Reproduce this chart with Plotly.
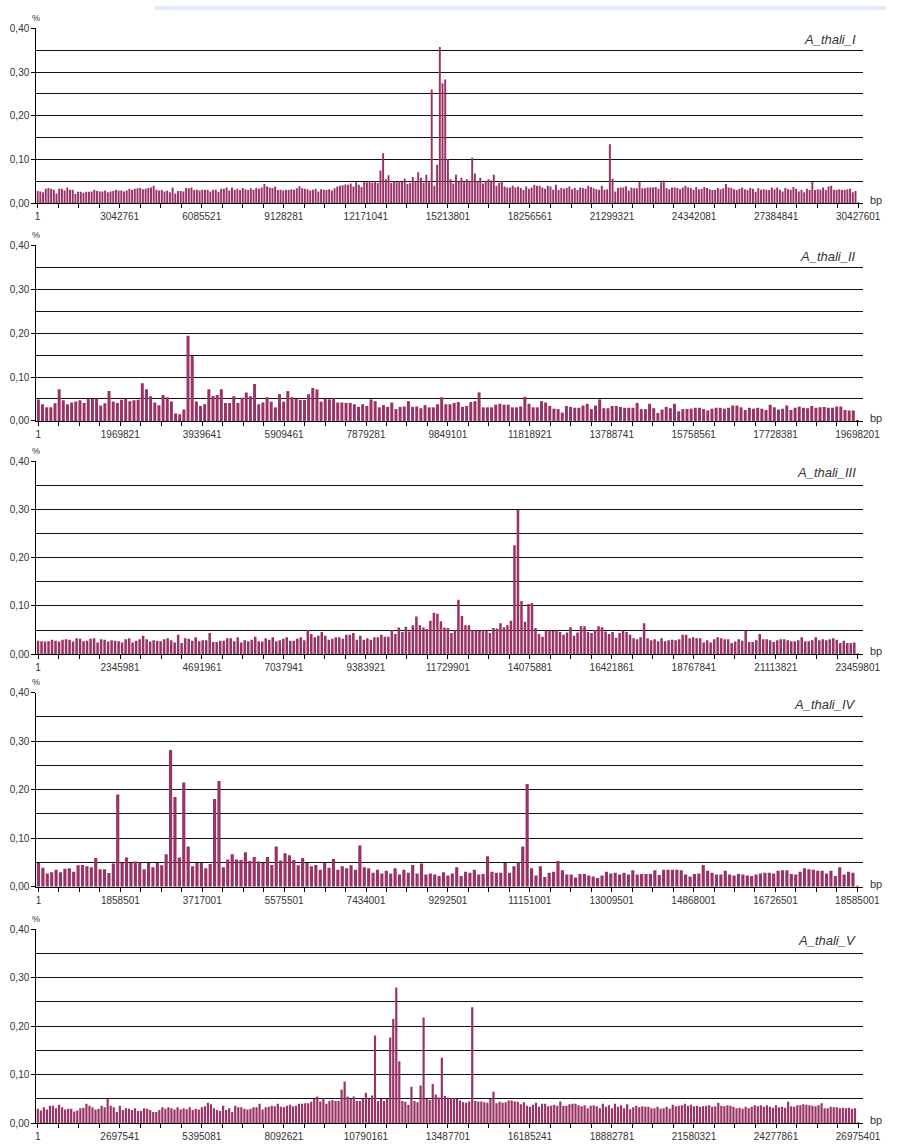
import plotly.graph_objects as go

W, H = 903, 1148

names = ["A_thali_I", "A_thali_II", "A_thali_III", "A_thali_IV", "A_thali_V"]

xlabels_I = ["1", "3042761", "6085521", "9128281", "12171041", "15213801",
             "18256561", "21299321", "24342081", "27384841", "30427601"]
xlabels_II = ["1", "1969821", "3939641", "5909461", "7879281", "9849101",
              "11818921", "13788741", "15758561", "17728381", "19698201"]
xlabels_III = ["1", "2345981", "4691961", "7037941", "9383921", "11729901",
               "14075881", "16421861", "18767841", "21113821", "23459801"]
xlabels_IV = ["1", "1858501", "3717001", "5575501", "7434001", "9292501",
              "11151001", "13009501", "14868001", "16726501", "18585001"]
xlabels_V = ["1", "2697541", "5395081", "8092621", "10790161", "13487701",
             "16185241", "18882781", "21580321", "24277861", "26975401"]

vals_I = [
    0.028, 0.027, 0.025, 0.033, 0.035, 0.033, 0.031, 0.022, 0.033, 0.033,
    0.029, 0.036, 0.031, 0.031, 0.021, 0.026, 0.026, 0.024, 0.026, 0.026,
    0.027, 0.031, 0.028, 0.027, 0.027, 0.029, 0.025, 0.027, 0.028, 0.031,
    0.029, 0.029, 0.027, 0.029, 0.033, 0.031, 0.033, 0.034, 0.035, 0.032,
    0.033, 0.035, 0.036, 0.040, 0.031, 0.029, 0.030, 0.027, 0.029, 0.025,
    0.036, 0.022, 0.028, 0.028, 0.027, 0.035, 0.034, 0.036, 0.030, 0.031,
    0.029, 0.031, 0.030, 0.031, 0.027, 0.031, 0.031, 0.026, 0.033, 0.033,
    0.036, 0.029, 0.036, 0.031, 0.033, 0.030, 0.035, 0.032, 0.030, 0.034,
    0.031, 0.035, 0.033, 0.036, 0.044, 0.038, 0.036, 0.035, 0.038, 0.030,
    0.031, 0.029, 0.031, 0.030, 0.032, 0.031, 0.034, 0.039, 0.034, 0.033,
    0.032, 0.029, 0.031, 0.033, 0.027, 0.032, 0.031, 0.030, 0.032, 0.029,
    0.034, 0.038, 0.040, 0.041, 0.043, 0.042, 0.045, 0.038, 0.048, 0.042,
    0.037, 0.049, 0.048, 0.050, 0.047, 0.050, 0.046, 0.075, 0.114, 0.055,
    0.064, 0.046, 0.050, 0.048, 0.050, 0.049, 0.056, 0.044, 0.046, 0.060,
    0.050, 0.071, 0.058, 0.047, 0.065, 0.048, 0.260, 0.040, 0.088, 0.357,
    0.274, 0.283, 0.101, 0.055, 0.045, 0.065, 0.050, 0.058, 0.048, 0.055,
    0.050, 0.104, 0.068, 0.050, 0.058, 0.045, 0.050, 0.055, 0.052, 0.065,
    0.040, 0.047, 0.050, 0.038, 0.036, 0.036, 0.040, 0.036, 0.038, 0.035,
    0.030, 0.038, 0.033, 0.036, 0.042, 0.040, 0.040, 0.036, 0.033, 0.040,
    0.038, 0.031, 0.042, 0.030, 0.035, 0.033, 0.035, 0.038, 0.032, 0.035,
    0.030, 0.036, 0.035, 0.033, 0.040, 0.037, 0.034, 0.032, 0.031, 0.040,
    0.031, 0.032, 0.135, 0.056, 0.027, 0.035, 0.036, 0.036, 0.039, 0.029,
    0.036, 0.034, 0.034, 0.049, 0.034, 0.034, 0.036, 0.036, 0.036, 0.037,
    0.033, 0.048, 0.052, 0.035, 0.032, 0.036, 0.036, 0.035, 0.032, 0.036,
    0.040, 0.036, 0.035, 0.030, 0.037, 0.032, 0.033, 0.037, 0.035, 0.032,
    0.030, 0.031, 0.035, 0.032, 0.034, 0.044, 0.036, 0.035, 0.032, 0.030,
    0.033, 0.036, 0.032, 0.030, 0.035, 0.033, 0.026, 0.034, 0.031, 0.032,
    0.031, 0.030, 0.036, 0.032, 0.036, 0.031, 0.027, 0.035, 0.032, 0.031,
    0.037, 0.033, 0.027, 0.031, 0.025, 0.033, 0.030, 0.049, 0.030, 0.032,
    0.031, 0.036, 0.030, 0.038, 0.040, 0.031, 0.030, 0.032, 0.030, 0.030,
    0.032, 0.033, 0.025, 0.028, 0.002,
]

vals_II = [
    0.049, 0.038, 0.031, 0.031, 0.040, 0.072, 0.047, 0.038, 0.042, 0.044,
    0.047, 0.041, 0.051, 0.050, 0.051, 0.035, 0.040, 0.068, 0.044, 0.041,
    0.048, 0.051, 0.045, 0.047, 0.048, 0.086, 0.072, 0.056, 0.042, 0.036,
    0.059, 0.054, 0.044, 0.017, 0.015, 0.026, 0.194, 0.149, 0.044, 0.034,
    0.038, 0.072, 0.057, 0.059, 0.072, 0.041, 0.041, 0.056, 0.041, 0.053,
    0.065, 0.056, 0.084, 0.038, 0.042, 0.054, 0.044, 0.031, 0.061, 0.044,
    0.068, 0.054, 0.050, 0.048, 0.048, 0.061, 0.075, 0.072, 0.044, 0.051,
    0.049, 0.052, 0.042, 0.042, 0.041, 0.041, 0.038, 0.032, 0.038, 0.034,
    0.049, 0.045, 0.031, 0.036, 0.032, 0.042, 0.027, 0.032, 0.033, 0.045,
    0.032, 0.033, 0.029, 0.036, 0.031, 0.031, 0.038, 0.054, 0.038, 0.038,
    0.041,
    0.043, 0.032, 0.034, 0.043, 0.045, 0.065, 0.031, 0.031, 0.031, 0.037,
    0.039, 0.037, 0.037, 0.031, 0.031, 0.033, 0.055, 0.039, 0.031, 0.031,
    0.045, 0.042, 0.034, 0.028, 0.027, 0.019, 0.034, 0.032, 0.030, 0.030,
    0.035, 0.039, 0.027, 0.035, 0.049, 0.029, 0.029, 0.034, 0.034, 0.032,
    0.030, 0.030, 0.030, 0.041, 0.027, 0.027, 0.039, 0.029, 0.018, 0.026,
    0.032, 0.029, 0.039, 0.022, 0.027, 0.027, 0.028, 0.030, 0.030, 0.027,
    0.024, 0.028, 0.030, 0.030, 0.028, 0.030, 0.035, 0.035, 0.031, 0.025,
    0.030, 0.028, 0.030, 0.028, 0.025, 0.037, 0.031, 0.026, 0.028, 0.035,
    0.025, 0.030, 0.033, 0.030, 0.029, 0.034, 0.030, 0.031, 0.032, 0.030,
    0.030, 0.033, 0.033, 0.025, 0.024, 0.024, 0.002,
]

vals_III = [
    0.028, 0.027, 0.026, 0.027, 0.030, 0.028, 0.026, 0.030, 0.031, 0.030,
    0.026, 0.033, 0.032, 0.027, 0.028, 0.032, 0.033, 0.024, 0.031, 0.030,
    0.026, 0.029, 0.028, 0.027, 0.024, 0.031, 0.033, 0.024, 0.028, 0.031,
    0.038, 0.031, 0.026, 0.029, 0.028, 0.027, 0.031, 0.033, 0.029, 0.024,
    0.040, 0.023, 0.033, 0.032, 0.028, 0.035, 0.027, 0.029, 0.029, 0.044,
    0.025, 0.025, 0.028, 0.028, 0.033, 0.033, 0.027, 0.035, 0.024, 0.029,
    0.027, 0.030, 0.036, 0.027, 0.026, 0.033, 0.030, 0.035, 0.027, 0.029,
    0.032, 0.035, 0.028, 0.028, 0.032, 0.035, 0.029, 0.050,
    0.042, 0.035, 0.038, 0.046, 0.038, 0.030, 0.032, 0.035, 0.035, 0.032,
    0.040, 0.040, 0.044, 0.030, 0.038, 0.030, 0.033, 0.030, 0.035, 0.035,
    0.040, 0.036, 0.036,
    0.050, 0.042, 0.055, 0.046, 0.057, 0.047, 0.060, 0.078, 0.060, 0.055,
    0.052, 0.069, 0.086, 0.084, 0.068, 0.055, 0.054, 0.044, 0.050,
    0.113,
    0.079, 0.060, 0.060, 0.050, 0.049, 0.049, 0.050, 0.049, 0.044, 0.054,
    0.053, 0.064, 0.056, 0.060, 0.069,
    0.226, 0.300,
    0.110, 0.067, 0.104, 0.106, 0.054,
    0.042, 0.036, 0.049, 0.049, 0.048, 0.049, 0.046, 0.040, 0.045, 0.056,
    0.038, 0.045, 0.058, 0.058, 0.046, 0.044, 0.050, 0.058, 0.056, 0.047,
    0.042, 0.046, 0.034, 0.044, 0.049, 0.046, 0.040, 0.033, 0.031, 0.035,
    0.064, 0.033, 0.029, 0.031, 0.027, 0.033, 0.027, 0.029, 0.030, 0.029,
    0.031, 0.040, 0.040, 0.033, 0.035, 0.033, 0.033, 0.024, 0.029, 0.024,
    0.031, 0.035, 0.033, 0.031, 0.031, 0.023, 0.026, 0.031, 0.028, 0.049,
    0.025, 0.025, 0.029, 0.042, 0.031, 0.031, 0.029, 0.025, 0.029, 0.031,
    0.031, 0.029, 0.027, 0.027, 0.029, 0.035, 0.027, 0.027, 0.029, 0.035,
    0.029, 0.031, 0.029, 0.031, 0.033, 0.030, 0.023, 0.028, 0.023, 0.023,
    0.024, 0.002,
]

vals_IV = [
    0.049, 0.039, 0.027, 0.030, 0.035, 0.030, 0.037, 0.038, 0.031, 0.044,
    0.045, 0.042, 0.040, 0.059, 0.036, 0.036, 0.028, 0.048,
    0.190,
    0.049, 0.060, 0.049, 0.052, 0.050, 0.036, 0.049, 0.040, 0.049, 0.044, 0.067,
    0.282,
    0.185, 0.060, 0.215, 0.083,
    0.042, 0.049, 0.049, 0.038, 0.047,
    0.181, 0.218,
    0.040, 0.056, 0.067, 0.056, 0.055, 0.071, 0.053, 0.061, 0.052, 0.049,
    0.061, 0.045,
    0.083,
    0.054, 0.069, 0.065, 0.055, 0.044, 0.059, 0.049, 0.042, 0.045, 0.035,
    0.049, 0.039, 0.057, 0.035, 0.042, 0.038, 0.044, 0.035,
    0.085,
    0.040, 0.038, 0.029, 0.035, 0.027, 0.033, 0.027, 0.038, 0.025, 0.035,
    0.029, 0.045, 0.027, 0.048, 0.025, 0.027, 0.025, 0.022, 0.030,
    0.023, 0.027, 0.040, 0.022, 0.031, 0.029, 0.035, 0.025, 0.026,
    0.063,
    0.031, 0.029, 0.029, 0.049, 0.029, 0.042, 0.050,
    0.083, 0.212,
    0.038, 0.023, 0.042, 0.020, 0.029, 0.031,
    0.053,
    0.034, 0.025, 0.025, 0.019, 0.026, 0.026, 0.023, 0.021, 0.018, 0.023,
    0.031, 0.027, 0.029, 0.025, 0.029, 0.025, 0.034, 0.025, 0.026, 0.026,
    0.026, 0.034, 0.024, 0.035, 0.035, 0.035, 0.035, 0.034, 0.025, 0.021,
    0.026, 0.027,
    0.045,
    0.033, 0.029, 0.025, 0.025, 0.033, 0.025, 0.023, 0.026, 0.025, 0.023,
    0.022, 0.025, 0.027, 0.029, 0.029, 0.027, 0.033, 0.034, 0.034, 0.026,
    0.025, 0.031, 0.038, 0.036, 0.035, 0.033, 0.033, 0.027, 0.033, 0.022,
    0.040,
    0.025, 0.031, 0.029,
    0.002,
]

vals_V = [
    0.030, 0.026, 0.033, 0.028, 0.036, 0.036, 0.031, 0.038, 0.033, 0.028,
    0.030, 0.030, 0.024, 0.026, 0.031, 0.032, 0.040, 0.036, 0.033, 0.028,
    0.030, 0.036, 0.033, 0.050, 0.036, 0.033, 0.023, 0.036, 0.027, 0.031,
    0.030, 0.027, 0.031, 0.025, 0.025, 0.031, 0.030, 0.027, 0.023, 0.023,
    0.027, 0.033, 0.030, 0.033, 0.031, 0.028, 0.033, 0.028, 0.031, 0.029,
    0.033, 0.027, 0.030, 0.028, 0.033, 0.035, 0.042, 0.039, 0.031, 0.027,
    0.025, 0.036, 0.027, 0.031, 0.023, 0.036, 0.033, 0.033, 0.030, 0.028,
    0.030, 0.033, 0.033, 0.040, 0.028, 0.033, 0.034, 0.036, 0.035, 0.040,
    0.034, 0.033, 0.036, 0.038, 0.035, 0.036, 0.040, 0.040, 0.041, 0.041,
    0.044, 0.050, 0.055, 0.045, 0.052, 0.040, 0.046, 0.048, 0.046, 0.046,
    0.069,
    0.086, 0.055, 0.050, 0.055, 0.046, 0.046, 0.050, 0.063, 0.050, 0.057,
    0.181, 0.046, 0.050, 0.046, 0.050, 0.177, 0.215, 0.280, 0.128, 0.046,
    0.044, 0.038, 0.075, 0.046, 0.043, 0.078, 0.218, 0.050, 0.048, 0.081,
    0.059, 0.053, 0.135, 0.056, 0.053, 0.051,
    0.052, 0.050, 0.047, 0.043, 0.042, 0.045, 0.239,
    0.046, 0.045, 0.045, 0.043, 0.042, 0.050, 0.065,
    0.041, 0.044, 0.042, 0.043, 0.047, 0.047, 0.045, 0.044, 0.039, 0.043,
    0.036, 0.034, 0.038, 0.042, 0.034, 0.040, 0.040, 0.035, 0.036, 0.038,
    0.036, 0.045,
    0.036, 0.036, 0.039, 0.040, 0.040, 0.037, 0.035, 0.037, 0.031, 0.036,
    0.037, 0.035, 0.031, 0.040, 0.034, 0.037, 0.031, 0.040,
    0.034, 0.037, 0.031, 0.039, 0.029, 0.033, 0.036, 0.033, 0.035, 0.034,
    0.034, 0.031, 0.031, 0.034, 0.030,
    0.031, 0.034, 0.030, 0.038, 0.035, 0.036, 0.037, 0.040, 0.036, 0.038,
    0.035, 0.036, 0.034, 0.035, 0.036, 0.037, 0.034, 0.035,
    0.042,
    0.036, 0.035, 0.037, 0.036, 0.034, 0.031, 0.032, 0.030, 0.034, 0.031,
    0.034, 0.037, 0.035, 0.037, 0.034, 0.037, 0.034, 0.032, 0.037, 0.033,
    0.034, 0.032,
    0.044,
    0.035, 0.034, 0.037, 0.037, 0.039, 0.038, 0.037, 0.036, 0.035, 0.037,
    0.041,
    0.031, 0.031, 0.034, 0.033, 0.033, 0.031, 0.032, 0.031, 0.032, 0.030,
    0.031,
    0.002,
]

ytick_vals = [0.0, 0.1, 0.2, 0.3, 0.4]
ytick_text = ["0,00", "0,10", "0,20", "0,30", "0,40"]
ygrid_minor = [0.05, 0.15, 0.25, 0.35]
y_unit = "%"
x_unit = "bp"

series = [
    (names[0], vals_I, xlabels_I),
    (names[1], vals_II, xlabels_II),
    (names[2], vals_III, xlabels_III),
    (names[3], vals_IV, xlabels_IV),
    (names[4], vals_V, xlabels_V),
]

# ---- geometry / style (pixels) ----
TOPS = [22.5, 242.0, 460.0, 694.0, 933.0]
BOTS = [199.3, 419.3, 655.0, 890.0, 1129.0]
XL, XT, XR = 36.0, 876.0, 880.0
BAR = "#993366"
TXT = "#333333"
FONT = "Liberation Sans, Arial, sans-serif"

fig = go.Figure()
layout = dict(
    width=W, height=H, autosize=False,
    margin=dict(l=0, r=0, t=0, b=0, pad=0),
    paper_bgcolor="white", plot_bgcolor="white",
    showlegend=False, hovermode=False,
    font=dict(family=FONT, size=10, color=TXT),
)
annotations = []
shapes = [dict(type="rect", xref="paper", yref="paper",
               x0=157 / W, x1=1.0, y0=1 - 4 / H, y1=1.0,
               fillcolor="#e3ebf5", line=dict(width=0), layer="below")]

for k, (nm, vals, labs) in enumerate(series):
    sfx = "" if k == 0 else str(k + 1)
    N = len(vals) - 1
    s = (XT - XL) / (N + 0.5)
    xmax = N + 0.5 + (XR - XT) / s
    fig.add_trace(go.Bar(
        x=list(range(N + 1)), y=vals, width=0.72,
        marker=dict(color=BAR, line=dict(width=0)),
        xaxis="x" + sfx, yaxis="y" + sfx, hoverinfo="skip",
    ))
    layout["xaxis" + sfx] = dict(
        domain=[XL / W, XR / W], range=[-0.5, xmax], anchor="y" + sfx,
        tickmode="array", tickvals=[N * j / 10 for j in range(11)], ticktext=labs,
        ticks="outside", ticklen=4, tickwidth=1, tickcolor="#000",
        showline=True, linecolor="#000", linewidth=1,
        showgrid=False, zeroline=False, fixedrange=True,
        tickfont=dict(size=10, color=TXT, family=FONT),
        minor=dict(tickmode="array", tickvals=[N * j / 40 for j in range(41)],
                   ticks="outside", ticklen=4, tickwidth=1, tickcolor="#000",
                   showgrid=False),
    )
    layout["yaxis" + sfx] = dict(
        domain=[1 - BOTS[k] / H, 1 - TOPS[k] / H], range=[0, 0.4], anchor="x" + sfx,
        tickmode="array", tickvals=ytick_vals, ticktext=ytick_text,
        ticks="outside", ticklen=4, tickwidth=1, tickcolor="#000",
        showline=True, linecolor="#000", linewidth=1,
        showgrid=True, gridcolor="#111", gridwidth=1, zeroline=False, fixedrange=True,
        tickfont=dict(size=10, color=TXT, family=FONT),
        minor=dict(tickmode="array", tickvals=ygrid_minor, showgrid=True,
                   gridcolor="#111", gridwidth=1, ticks=""),
    )
    annotations.append(dict(text=y_unit, xref="paper", yref="paper",
                            x=35.5 / W, y=1 - (TOPS[k] - 10.5) / H,
                            xanchor="center", yanchor="middle", showarrow=False,
                            font=dict(size=9, color=TXT, family=FONT)))
    annotations.append(dict(text="<i>" + nm + "</i>", xref="paper", yref="paper",
                            x=874 / W, y=1 - (TOPS[k] + 11.5) / H,
                            xanchor="right", yanchor="middle", showarrow=False,
                            font=dict(size=13, color=TXT, family=FONT)))
    annotations.append(dict(text=x_unit, xref="paper", yref="paper",
                            x=885 / W, y=1 - (BOTS[k] - 3) / H,
                            xanchor="left", yanchor="middle", showarrow=False,
                            font=dict(size=11, color=TXT, family=FONT)))

layout["annotations"] = annotations
layout["shapes"] = shapes
fig.update_layout(**layout)
fig.write_html(
    "out.html",
    config={"displayModeBar": False, "staticPlot": True},
    post_script="document.body.style.margin='0px';document.body.style.overflow='hidden';",
)
